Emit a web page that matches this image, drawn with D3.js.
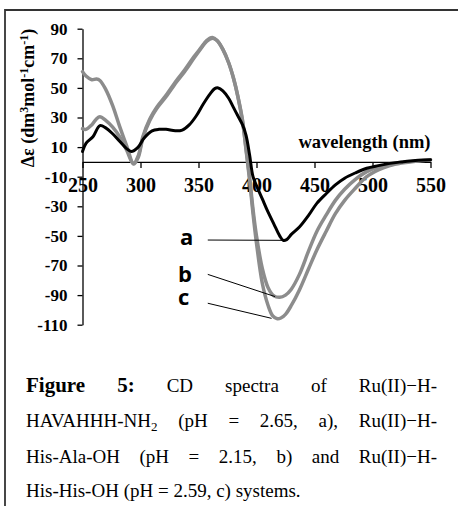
<!DOCTYPE html>
<html><head><meta charset="utf-8">
<script src="https://cdn.jsdelivr.net/npm/d3@7"></script>
<style>html,body{margin:0;padding:0;background:#fff}svg{display:block}</style>
</head><body>
<svg id="c" width="458" height="506"></svg>
<script>
// ---- data ----
const yTicks = [-110,-90,-70,-50,-30,-10,10,30,50,70,90];
const xTicks = [250,300,350,400,450,500,550];

const wlA  = [250,253,259,265,270,276,282,288,292,298,303,310,316,322,330,336,342,348,354,360,364,367,371,376,380,384,388,391,394,397,400,405,410,415,420,423,426,430,437,445,452,460,468,476,485,495,505,515,525,537,550];
const valA = [7,12.5,17,24.5,23,19,14,9,7,10,16,21,22,22,21,21.5,25,31,39,46,49.5,50,48,43,37,31,25,18,5,-10,-16,-25,-34,-42,-50,-53,-52.5,-49,-44,-36,-28,-21.5,-15.5,-11,-7.5,-4.3,-2.5,-1,0,1,1.5];

const wlB  = [250,253,258,262,265,270,276,282,288,294,298,302,308,314,322,331,338,346,352,357,362,366,371,376,380,384,388,391,394,397,400,405,410,415,420,425,430,437,445,452,460,468,476,485,495,505,515,525,537,550];
const valB = [22.5,22,25,29,30.5,28,23.5,17,8,-1.5,3,16,28,36,44,54,61,70,76.5,81.5,83.5,82,76,67,57,44,27,9,-10,-32,-50,-72,-85,-90.5,-91.5,-90,-86,-76,-60,-47,-36,-26,-18.5,-12,-6.6,-3.5,-1.5,-0.3,0.6,1.3];

const wlC  = [250,253,258,262,265,270,276,282,288,294,298,302,308,314,322,331,338,346,352,357,362,366,371,376,380,384,388,391,394,397,400,405,410,414,418,421,425,430,437,445,452,460,468,476,485,495,505,515,525,537,550];
const valC = [61,58,55.5,56,55,49,38,24,11,-1,4,17,29,37,45,55,62,71,77,82,84,82,76,67,57,44,28,8,-12,-35,-55,-82,-97,-104,-106,-105.5,-103,-97,-86.5,-72,-59.5,-47,-35,-26,-18,-10,-5.5,-2.5,-0.8,0.5,1.3];

const seriesNames  = ["b","c","a"];
const seriesColors = ["#8c8c8c","#8c8c8c","#000000"];

// annotation labels (data units): label anchor, leader start, leader end
const annLabels = ["a","b","c"];
const annTextW  = [334,332.3,332.3];
const annTextV  = [-56,-81,-97];
const annFromW  = [358,358,358];
const annFromV  = [-52.8,-76,-95.5];
const annToW    = [423,416,413];
const annToV    = [-53,-91,-105.7];

const captionLines = [
  [["Figure",true],["5:",true],["CD"],["spectra"],["of"],["Ru(II)\u2212H-"]],
  [["HAVAHHH-NH",false,"2"],["(pH"],["="],["2.65,"],["a),"],["Ru(II)\u2212H-"]],
  [["His-Ala-OH"],["(pH"],["="],["2.15,"],["b)"],["and"],["Ru(II)\u2212H-"]],
  [["His-His-OH (pH = 2.59, c) systems."]]
];

// ---- drawing ----
const svg = d3.select("#c");
const serif = "'Liberation Serif','Times New Roman',serif";

// frame
svg.append("path").attr("d","M5,506 V10 H458")
  .attr("fill","none").attr("stroke","#333").attr("stroke-width",1.8);

const x = d3.scaleLinear().domain([250,550]).range([82.5,430.5]);
const y = d3.scaleLinear().domain([-110,90]).range([324.7,28.7]);

// y axis
const ya = svg.append("g").attr("transform",`translate(${x(250)},0)`)
  .call(d3.axisLeft(y).tickValues(yTicks).tickFormat(d=>String(d)).tickSize(5).tickSizeOuter(0).tickPadding(10));
ya.select(".domain").attr("stroke","#000").attr("stroke-width",1.3);
ya.selectAll(".tick line").attr("stroke","#000").attr("stroke-width",1.3);
ya.selectAll(".tick text").attr("font-family",serif).attr("font-weight","bold")
  .attr("font-size",17).attr("fill","#000");

// x axis at y=0
const xa = svg.append("g").attr("transform",`translate(0,${y(0)})`)
  .call(d3.axisBottom(x).tickValues(xTicks).tickFormat(d=>String(d)).tickSize(6).tickSizeOuter(0));
xa.select(".domain").attr("stroke","#000").attr("stroke-width",1.3);
xa.selectAll(".tick line").attr("stroke","#000").attr("stroke-width",1.3);
xa.selectAll(".tick text").attr("font-family",serif).attr("font-weight","bold")
  .attr("font-size",20).attr("fill","#000").attr("y",30).attr("dy",null);

// axis titles
svg.append("text").attr("x",x(550)).attr("y",148).attr("text-anchor","end")
  .attr("font-family",serif).attr("font-weight","bold").attr("font-size",18.5)
  .text("wavelength (nm)");

const yt = svg.append("text").attr("transform","translate(34,98) rotate(-90)")
  .attr("text-anchor","middle").attr("font-family",serif).attr("font-weight","bold").attr("font-size",18);
yt.append("tspan").text("\u0394\u03b5 (dm");
yt.append("tspan").attr("font-size",12).attr("dy",-6).text("3");
yt.append("tspan").attr("dy",6).text("mol");
yt.append("tspan").attr("font-size",12).attr("dy",-6).text("-1");
yt.append("tspan").attr("dy",6).text("cm");
yt.append("tspan").attr("font-size",12).attr("dy",-6).text("-1");
yt.append("tspan").attr("dy",6).text(")");

// lines
const data = {
  a: wlA.map((w,i)=>[w,valA[i]]),
  b: wlB.map((w,i)=>[w,valB[i]]),
  c: wlC.map((w,i)=>[w,valC[i]])
};
const line = d3.line().x(d=>x(d[0])).y(d=>y(d[1])).curve(d3.curveCatmullRom.alpha(0.5));
seriesNames.forEach((n,i)=>{
  svg.append("path").datum(data[n]).attr("d",line).attr("fill","none")
    .attr("stroke",seriesColors[i]).attr("stroke-width",n==="a"?3:3.5)
    .attr("stroke-linejoin","round").attr("stroke-linecap","round");
});

// annotations
annLabels.forEach((l,i)=>{
  svg.append("line").attr("x1",x(annFromW[i])).attr("y1",y(annFromV[i]))
    .attr("x2",x(annToW[i])).attr("y2",y(annToV[i])).attr("stroke","#000").attr("stroke-width",1);
  svg.append("text").attr("x",x(annTextW[i])).attr("y",y(annTextV[i]))
    .attr("font-family","'Open Sans',sans-serif").attr("font-weight","bold").attr("font-size",22)
    .text(l);
});

// caption (justified)
const capLeft = 26, capRight = 437, capBase = [391.5,427,462.5,497], capSize = 19, capBold = 21;
captionLines.forEach((words,li)=>{
  const g = svg.append("g");
  const els = words.map(w=>{
    const t = g.append("text").attr("y",capBase[li]).attr("font-family",serif)
      .attr("font-size",w[1]?capBold:capSize).attr("fill","#000");
    if (w[1]) t.attr("font-weight","bold");
    t.append("tspan").text(w[0]);
    if (w[2]) t.append("tspan").attr("font-size",13).attr("dy",4).text(w[2]);
    return t;
  });
  const widths = els.map(e=>e.node().getComputedTextLength());
  if (li < captionLines.length-1 && els.length>1) {
    const tot = d3.sum(widths);
    const gap = (capRight-capLeft-tot)/(els.length-1);
    let cx = capLeft;
    els.forEach((e,i)=>{ e.attr("x",cx); cx += widths[i]+gap; });
  } else {
    els[0].attr("x",capLeft);
  }
});
</script>
</body></html>
